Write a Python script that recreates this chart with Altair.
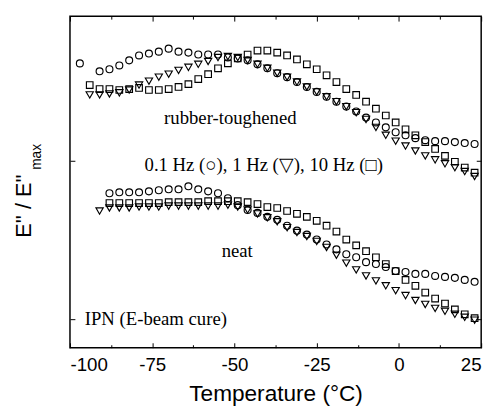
import altair as alt
import pandas as pd

# ---- data (y: normalised E''/E''max, arbitrary offset units) ----
rt_circle_T = [-97, -91, -88, -85, -82, -79, -76, -73, -70, -67, -64, -61, -58, -55, -52, -49, -46, -43, -40, -37,
               -34, -31, -28, -25, -22, -19, -16, -13, -10, -7, -4, -1, 2, 5, 8, 11, 14, 17, 20, 23]
rt_circle_y = [1.615, 1.565, 1.578, 1.602, 1.634, 1.665, 1.677, 1.689, 1.708, 1.689, 1.683, 1.671, 1.671, 1.671,
               1.652, 1.646, 1.634, 1.609, 1.584, 1.553, 1.528, 1.497, 1.466, 1.435, 1.404, 1.373, 1.342, 1.311,
               1.273, 1.242, 1.211, 1.180, 1.161, 1.143, 1.130, 1.124, 1.124, 1.118, 1.112, 1.106]

rt_tri_T = [-94, -91, -88, -85, -82, -79, -76, -73, -70, -67, -64, -61, -58, -55, -52, -49, -46, -43, -40, -37,
            -34, -31, -28, -25, -22, -19, -16, -13, -10, -7, -4, -1, 2, 5, 8, 11, 14, 17, 20, 23]
rt_tri_y = [1.416, 1.416, 1.422, 1.429, 1.447, 1.478, 1.503, 1.528, 1.547, 1.571, 1.590, 1.609, 1.627, 1.652,
            1.658, 1.652, 1.634, 1.609, 1.584, 1.553, 1.528, 1.497, 1.466, 1.435, 1.404, 1.373, 1.342, 1.304,
            1.261, 1.211, 1.161, 1.124, 1.093, 1.062, 1.031, 1.006, 0.981, 0.957, 0.932, 0.901]

rt_sq_T = [-94, -91, -88, -85, -82, -79, -76, -73, -70, -67, -64, -61, -58, -55, -52, -49, -46, -43, -40, -37,
           -34, -31, -28, -25, -22, -19, -16, -13, -10, -7, -4, -1, 2, 5, 8, 11, 14, 17, 20, 23]
rt_sq_y = [1.478, 1.453, 1.453, 1.447, 1.453, 1.460, 1.447, 1.447, 1.453, 1.466, 1.484, 1.516, 1.547, 1.584,
           1.615, 1.646, 1.671, 1.696, 1.696, 1.683, 1.665, 1.640, 1.609, 1.578, 1.540, 1.497, 1.453, 1.416,
           1.373, 1.329, 1.286, 1.242, 1.199, 1.161, 1.118, 1.075, 1.031, 0.994, 0.957, 0.925]

neat_circle_T = [-88, -85, -82, -79, -76, -73, -70, -67, -64, -61, -58, -55, -52, -49, -46, -43, -40, -37, -34,
                 -31, -28, -25, -22, -19, -16, -13, -10, -7, -4, -1, 2, 5, 8, 11, 14, 17, 20, 23]
neat_circle_y = [0.795, 0.801, 0.801, 0.801, 0.807, 0.814, 0.820, 0.820, 0.839, 0.820, 0.807, 0.795, 0.764,
                 0.720, 0.689, 0.671, 0.646, 0.627, 0.590, 0.559, 0.534, 0.503, 0.472, 0.441, 0.410, 0.391,
                 0.360, 0.348, 0.329, 0.304, 0.298, 0.286, 0.286, 0.273, 0.267, 0.261, 0.248, 0.236]

neat_tri_T = [-91, -88, -85, -82, -79, -76, -73, -70, -67, -64, -61, -58, -55, -52, -49, -46, -43, -40, -37,
              -34, -31, -28, -25, -22, -19, -16, -13, -10, -7, -4, -1, 2, 5, 8, 11, 14, 17, 20, 23]
neat_tri_y = [0.683, 0.702, 0.702, 0.702, 0.708, 0.708, 0.708, 0.714, 0.714, 0.714, 0.714, 0.714, 0.714, 0.720,
              0.708, 0.689, 0.665, 0.640, 0.615, 0.578, 0.547, 0.522, 0.491, 0.453, 0.404, 0.354, 0.311, 0.273,
              0.242, 0.211, 0.180, 0.149, 0.118, 0.093, 0.068, 0.050, 0.031, 0.012, -0.006]

neat_sq_T = [-88, -85, -82, -79, -76, -73, -70, -67, -64, -61, -58, -55, -52, -49, -46, -43, -40, -37, -34,
             -31, -28, -25, -22, -19, -16, -13, -10, -7, -4, -1, 2, 5, 8, 11, 14, 17, 20, 23]
neat_sq_y = [0.733, 0.733, 0.733, 0.733, 0.733, 0.733, 0.739, 0.739, 0.739, 0.739, 0.745, 0.745, 0.745, 0.745,
             0.739, 0.727, 0.708, 0.702, 0.683, 0.665, 0.646, 0.621, 0.590, 0.553, 0.503, 0.466, 0.429, 0.391,
             0.348, 0.304, 0.248, 0.211, 0.168, 0.130, 0.099, 0.062, 0.031, 0.006]

x_major = [-100, -75, -50, -25, 0, 25]
x_all_ticks = [-100, -87.5, -75, -62.5, -50, -37.5, -25, -12.5, 0, 12.5, 25]
y_ticks = [0, 1]


def frame(T, y, sample):
    return pd.DataFrame({"T": T, "y": y, "sample": sample})


circles = pd.concat([frame(rt_circle_T, rt_circle_y, "rubber-toughened"),
                     frame(neat_circle_T, neat_circle_y, "neat")])
triangles = pd.concat([frame(rt_tri_T, rt_tri_y, "rubber-toughened"),
                       frame(neat_tri_T, neat_tri_y, "neat")])
squares = pd.concat([frame(rt_sq_T, rt_sq_y, "rubber-toughened"),
                     frame(neat_sq_T, neat_sq_y, "neat")])

W, H = 418, 337
x_scale = alt.Scale(domain=[-100, 25], nice=False, zero=False)
y_scale = alt.Scale(domain=[-0.18, 1.913], nice=False, zero=False)
tick_size = {"condition": {"test": "datum.value % 25 == 0", "value": 5}, "value": 3}

SANS = "Liberation Sans"
SERIF = "Liberation Serif"

pt = dict(filled=False, color="black", strokeWidth=1.15, opacity=1)

layer_c = alt.Chart(circles).mark_point(shape="circle", size=50, **pt).encode(
    x=alt.X("T:Q", scale=x_scale, axis=alt.Axis(
        orient="bottom", values=x_major, ticks=False, tickSize=0, domain=False, grid=False,
        labelExpr="datum.value + ''", labelFont=SANS, labelFontSize=19, labelColor="black",
        labelPadding=8, title="Temperature (°C)", titleFont=SANS, titleFontSize=23,
        titleFontWeight="normal", titleColor="black", titlePadding=9)),
    y=alt.Y("y:Q", scale=y_scale, axis=None),
)

layer_t = alt.Chart(triangles).mark_point(shape="triangle-down", size=55, **pt).encode(
    x=alt.X("T:Q", scale=x_scale, axis=alt.Axis(
        orient="top", offset=-H, values=x_all_ticks, labels=False, domain=False, grid=False,
        tickSize=tick_size, tickColor="black", tickWidth=1, title=None)),
    y=alt.Y("y:Q", scale=y_scale, axis=alt.Axis(
        orient="right", offset=-W, values=y_ticks, labels=False, domain=False, grid=False,
        tickSize=5, tickColor="black", tickWidth=1, title=None)),
)

layer_s = alt.Chart(squares).mark_point(shape="square", size=45, **pt).encode(
    x=alt.X("T:Q", scale=x_scale, axis=alt.Axis(
        orient="bottom", offset=-H, values=x_all_ticks, labels=False, domain=False, grid=False,
        tickSize=tick_size, tickColor="black", tickWidth=1, title=None)),
    y=alt.Y("y:Q", scale=y_scale, axis=alt.Axis(
        orient="left", offset=-W, values=y_ticks, labels=False, domain=False, grid=False,
        tickSize=5, tickColor="black", tickWidth=1, title=None)),
)

one = alt.Data(values=[{}])


def label(text, x, y, font=SERIF, size=19, align="center", angle=0, baseline="alphabetic"):
    return alt.Chart(one).mark_text(
        text=text, font=font, fontSize=size, align=align, baseline=baseline, angle=angle, color="black"
    ).encode(x=alt.value(x), y=alt.value(y))


texts = [
    label("rubber-toughened", 163, 110),
    label("0.1 Hz (○), 1 Hz (▽), 10 Hz (□)", 197, 157),
    label("neat", 170, 245),
    label("IPN (E-beam cure)", 15, 314, align="left"),
    label("E'' / E''", -47, 193, font=SANS, size=22, angle=270, baseline="middle"),
    label("max", -33, 143, font=SANS, size=14, angle=270, baseline="middle"),
]

chart = alt.layer(layer_c, layer_t, layer_s, *texts).resolve_axis(
    x="independent", y="independent"
).properties(
    width=W, height=H,
    autosize=alt.AutoSizeParams(type="none"),
    padding={"left": 63, "top": 5, "right": 11, "bottom": 59},
    background="white",
).configure_view(stroke="black", strokeWidth=1.5)

chart.save("out.html", embed_options={"renderer": "svg", "actions": False})
